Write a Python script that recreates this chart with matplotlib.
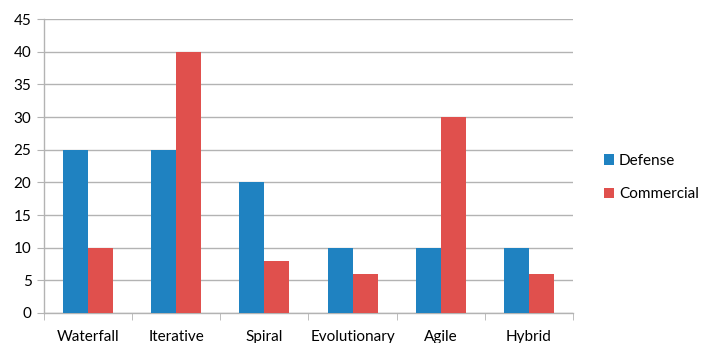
import matplotlib
matplotlib.use("Agg")
import matplotlib.pyplot as plt
import numpy as np

categories = ["Waterfall", "Iterative", "Spiral", "Evolutionary", "Agile", "Hybrid"]
defense = [25, 25, 20, 10, 10, 10]
commercial = [10, 40, 8, 6, 30, 6]
y_ticks = [0, 5, 10, 15, 20, 25, 30, 35, 40, 45]

plt.rcParams['font.family'] = ['Lato', 'DejaVu Sans']

fig = plt.figure(figsize=(7.01, 3.43), dpi=100)
ax = fig.add_axes([44 / 701, 1 - 313 / 343, (573 - 44) / 701, (313 - 19) / 343])

x = np.arange(len(categories))
w = 0.283
blue = "#1F82C1"
red = "#E0504D"
ax.bar(x - w / 2, defense, w, color=blue, label="Defense", zorder=3)
ax.bar(x + w / 2, commercial, w, color=red, label="Commercial", zorder=3)

ax.set_xlim(-0.5, len(categories) - 0.5)
ax.set_ylim(0, 45)
ax.set_yticks(y_ticks)
ax.set_yticklabels([str(t) for t in y_ticks], fontsize=11)
ax.yaxis.grid(True, color="#B3B3B3", linewidth=1.0, zorder=0)
ax.tick_params(axis="y", length=5, color="#B3B3B3", pad=4)

# category labels centered, tick marks on category boundaries
ax.set_xticks(x)
ax.set_xticklabels(categories, fontsize=11)
ax.tick_params(axis="x", which="major", length=0, pad=12)
ax.set_xticks(np.arange(len(categories) + 1) - 0.5, minor=True)
ax.tick_params(axis="x", which="minor", length=5, color="#B3B3B3")

for s in ["top", "right"]:
    ax.spines[s].set_visible(False)
for s in ["left", "bottom"]:
    ax.spines[s].set_color("#B3B3B3")
    ax.spines[s].set_linewidth(1.0)

fig.legend(loc="upper left", bbox_to_anchor=(596 / 701, 1 - 146 / 343),
           frameon=False, fontsize=11, handlelength=0.7, handleheight=0.7,
           handletextpad=0.3, labelspacing=1.3, borderpad=0)

fig.savefig("out.png", dpi=100)
